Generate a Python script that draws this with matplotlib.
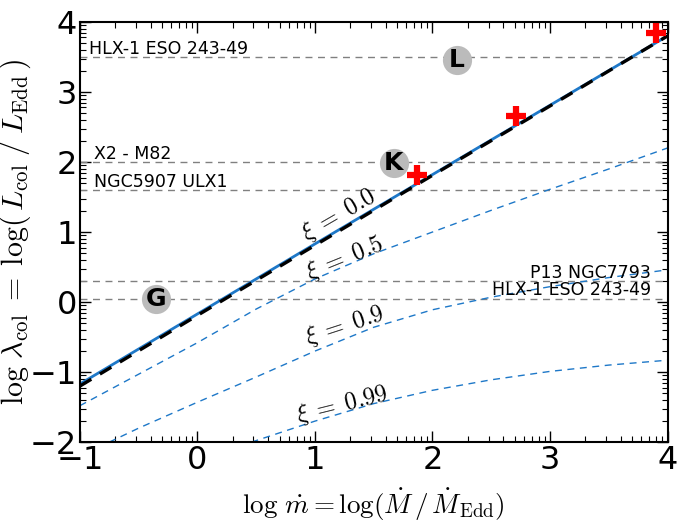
import numpy as np
import matplotlib.pyplot as plt
from matplotlib.ticker import FixedLocator

plt.rcParams['mathtext.fontset'] = 'cm'

# xi = 0.0 model (blue) and reference line (black dashed)
x_xi0 = [-1, 0, 1, 2, 3, 4]
y_xi0 = [-1.17, -0.17, 0.83, 1.82, 2.81, 3.80]
y_ref = [-1.20, -0.19, 0.81, 1.81, 2.80, 3.80]

# xi = 0.5
x_xi05 = [-1, -0.5, 0, 0.5, 1, 1.5, 2, 2.5, 3, 3.5, 4]
y_xi05 = [-1.48, -1.03, -0.58, -0.10, 0.33, 0.69, 1.00, 1.31, 1.61, 1.90, 2.20]

# xi = 0.9
x_xi09 = [-0.75, -0.5, 0, 0.5, 1, 1.5, 2, 2.5, 3, 3.5, 4]
y_xi09 = [-2.0, -1.80, -1.43, -1.07, -0.70, -0.36, -0.11, 0.07, 0.22, 0.35, 0.46]

# xi = 0.99
x_xi099 = [0.46, 1, 1.5, 2, 2.5, 3, 3.5, 4]
y_xi099 = [-2.0, -1.70, -1.45, -1.26, -1.11, -0.99, -0.90, -0.83]

# observed sources (horizontal lines)
src_names_left = ['HLX-1 ESO 243-49', 'X2 - M82', 'NGC5907 ULX1']
src_y_left = [3.5, 2.0, 1.6]
src_names_right = ['P13 NGC7793', 'HLX-1 ESO 243-49']
src_y_right = [0.3, 0.05]

# lettered points
letters = ['G', 'K', 'L']
letter_x = [-0.35, 1.67, 2.21]
letter_y = [0.04, 1.99, 3.46]

# red crosses
cross_x = [1.87, 2.71, 3.90]
cross_y = [1.81, 2.66, 3.84]

blue = '#1e78c8'

fig = plt.figure(figsize=(6.77, 5.22), dpi=100)
ax = fig.add_axes([0.118, 0.153, 0.868, 0.805])

for yv in src_y_left + src_y_right:
    ax.axhline(yv, color='gray', lw=1, dashes=(5, 4))

ax.plot(x_xi0, y_xi0, color=blue, lw=2)
ax.plot(x_xi0, y_ref, color='k', lw=2.4, dashes=(4, 3))
ax.plot(x_xi05, y_xi05, color=blue, lw=1, dashes=(5, 4))
ax.plot(x_xi09, y_xi09, color=blue, lw=1, dashes=(5, 4))
ax.plot(x_xi099, y_xi099, color=blue, lw=1, dashes=(5, 4))

ax.plot(cross_x, cross_y, '+', color='red', ms=15, mew=4.5, ls='none')

ax.plot(letter_x, letter_y, 'o', color='#bbbbbb', ms=21, mec='none', ls='none')
for s, xv, yv in zip(letters, letter_x, letter_y):
    ax.text(xv, yv, s, ha='center', va='center', fontsize=18, fontweight='bold')

ax.text(-0.92, src_y_left[0] + 0.04, src_names_left[0], fontsize=12.5, va='baseline')
ax.text(-0.88, src_y_left[1] + 0.04, src_names_left[1], fontsize=12.5, va='baseline')
ax.text(-0.88, src_y_left[2] + 0.04, src_names_left[2], fontsize=12.5, va='baseline')
ax.text(3.86, src_y_right[0] + 0.05, src_names_right[0], fontsize=12.5, va='baseline', ha='right')
ax.text(3.86, src_y_right[1] + 0.05, src_names_right[1], fontsize=12.5, va='baseline', ha='right')

ax.text(1.2, 1.24, r'$\xi\;=\;0.0$', fontsize=17.5, rotation=30, ha='center', va='center')
ax.text(1.25, 0.62, r'$\xi\;=\;0.5$', fontsize=17.5, rotation=22, ha='center', va='center')
ax.text(1.25, -0.34, r'$\xi\;=\;0.9$', fontsize=17.5, rotation=18, ha='center', va='center')
ax.text(1.23, -1.47, r'$\xi\;=\;0.99$', fontsize=17.5, rotation=14, ha='center', va='center')

ax.set_xlim(-1, 4)
ax.set_ylim(-2, 4)
ax.set_xticks(range(-1, 5))
ax.set_yticks(range(-2, 5))
minor_x = [n + np.log10(k) for n in range(-1, 4) for k in range(2, 10)]
minor_y = [n + np.log10(k) for n in range(-2, 4) for k in range(2, 10)]
ax.xaxis.set_minor_locator(FixedLocator(minor_x))
ax.yaxis.set_minor_locator(FixedLocator(minor_y))
ax.tick_params(which='both', direction='in', top=True, right=True, labelsize=23, pad=2)
ax.tick_params(which='major', length=8, width=1)
ax.tick_params(which='minor', length=4, width=0.8)
for sp in ax.spines.values():
    sp.set_linewidth(1.5)

ax.set_xlabel(r'$\log\,\dot{m} = \log(\dot{M}\,/\,\dot{M}_{\rm Edd})$', fontsize=19.5)
ax.set_ylabel(r'$\log\,\lambda_{\rm col}\;=\;\log(\,L_{\rm col}\;/\;L_{\rm Edd}\,)$', fontsize=21.5)
ax.xaxis.set_label_coords(0.5, -0.105)
ax.yaxis.set_label_coords(-0.08, 0.5)

fig.savefig('out.png', dpi=100)
